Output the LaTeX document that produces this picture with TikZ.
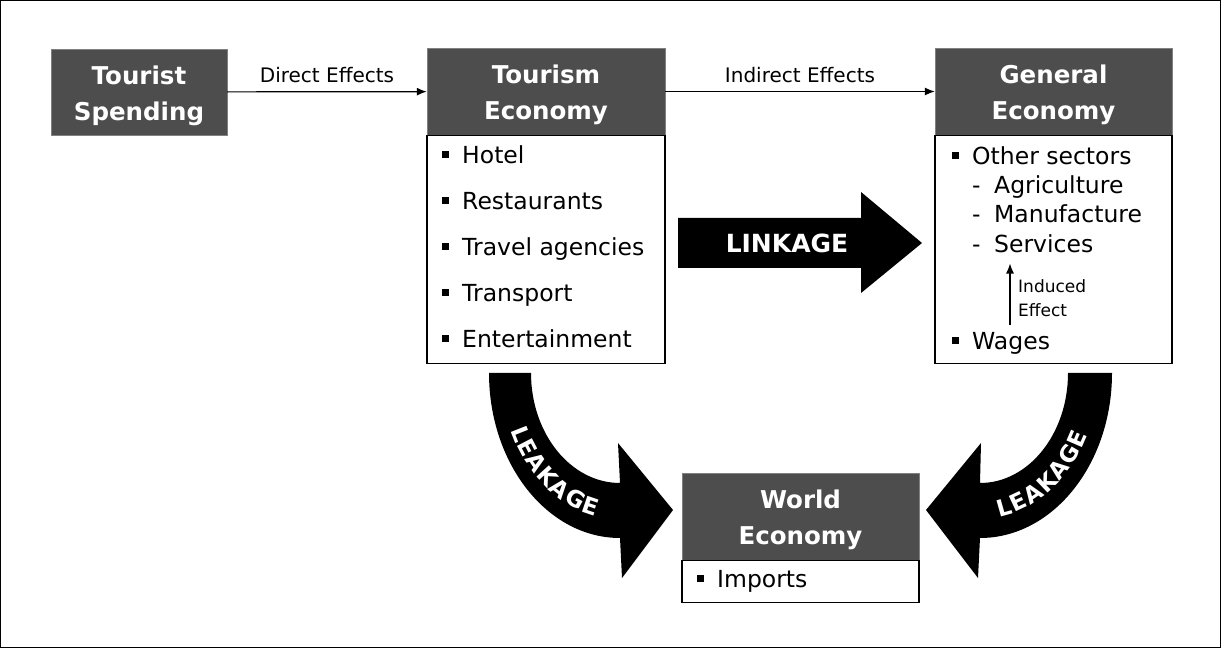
\documentclass[tikz,border=0pt]{standalone}
\usepackage{fontspec}
\setmainfont{DejaVu Sans}
\usetikzlibrary{positioning,arrows.meta,decorations.text}
\definecolor{headgray}{RGB}{77,77,77}
\newcommand{\sqbul}{\rule[5.5pt]{7pt}{7pt}\hspace{13pt}}
\newcommand{\subitm}[1]{\makebox[22pt][l]{-}#1}
\newcommand{\hdstrut}{\rule{0pt}{26pt}}
\newcommand{\hdfont}{\bfseries\fontsize{24.5}{36}\selectfont}
\newcommand{\listfont}{\fontsize{23.5}{28}\selectfont}
\newcommand{\efffont}{\fontsize{20}{24}\selectfont}
\newcommand{\indfont}{\fontsize{17}{24}\selectfont}
\newcommand{\bigfont}{\bfseries\fontsize{25}{30}\selectfont}
\newcommand{\leakfont}{\bfseries\fontsize{23}{28}\selectfont}

\begin{document}
\begin{tikzpicture}[x=1pt, y=1pt,
    >={Latex[length=10pt,width=8pt]},
    head/.style={draw=gray, fill=headgray, text=white, font=\hdfont,
      align=center, minimum height=87, inner sep=0},
    body/.style={draw, line width=1.2pt, fill=white, inner sep=0},
    item/.style={anchor=base west, inner sep=0, font=\listfont},
    effect/.style={font=\efffont, above=8pt, inner sep=0},
    flow/.style={->, line width=1.2pt}]

  \useasboundingbox (0,0) rectangle (1221,648);
  \draw[line width=1.2pt] (0.6,0.6) rectangle (1220.4,647.4);

  %% boxes
  \node[head, minimum width=176, minimum height=86] (spend) at (139,556) {\hdstrut Tourist\\Spending};

  \node[head, minimum width=238] (tourhead) at (546,556.5) {\hdstrut Tourism\\Economy};
  \node[body, minimum width=238, minimum height=228, below=0pt of tourhead] (tourbody) {};

  \node[head, minimum width=237] (genhead) at (1053.5,556.5) {\hdstrut General\\Economy};
  \node[body, minimum width=237, minimum height=228, below=0pt of genhead] (genbody) {};

  \node[head, minimum width=237] (worldhead) at (800.5,131.5) {\hdstrut World\\Economy};
  \node[body, minimum width=237, minimum height=42, below=0pt of worldhead] (worldbody) {};

  %% lists
  \foreach \t [count=\i from 0] in {Hotel,Restaurants,Travel agencies,Transport,Entertainment}
    \node[item] (tour\i) at (442,484-46*\i) {\sqbul\t};

  \node[item] (other) at (952,483) {\sqbul Other sectors};
  \node[item] (agri) at (972,454) {\subitm{Agriculture}};
  \node[item] (manu) at (972,425) {\subitm{Manufacture}};
  \node[item] (serv) at (972,395) {\subitm{Services}};
  \node[item] (wages) at (952,298) {\sqbul Wages};

  \node[item] (imports) at (697,60) {\sqbul Imports};

  \node[font=\indfont, anchor=north west, align=left, inner xsep=8pt, inner ysep=0]
    (induced) at (1010,369) {Induced\\Effect};
  \draw[->, line width=1.2pt, shorten <=8pt, shorten >=10pt]
    (wages.north -| induced.west) -- (serv.south -| induced.west);

  %% effects
  \draw[flow] (spend) -- node[effect] (direct) {Direct Effects} (tourhead);
  \draw[flow] (tourhead) -- node[effect] (indirect) {Indirect Effects} (genhead);

  %% linkage
  \fill (678,430) -- (861,430) -- (861,456) -- (922,405) -- (861,355) -- (861,380) -- (678,380) -- cycle;
  \node[text=white, font=\bigfont] (link) at (787,405) {LINKAGE};

  %% leakages
  \fill (531,275) -- (489,275) arc[start angle=180, end angle=270, x radius=131, y radius=165]
    -- (622,70) -- (673,138) -- (618,205) -- (620,165)
    arc[start angle=270, end angle=180, x radius=89, y radius=110] -- cycle;
  \path[decorate, decoration={text along path, text={|\leakfont|LEAKAGE}, text align=center,
      text color=white, raise=-8.5pt}]
    (620,275) ++(190:110 and 137.5) arc[start angle=190, end angle=275, x radius=110, y radius=137.5];

  \fill (1068,275) -- (1112,275) arc[start angle=0, end angle=-90, x radius=132, y radius=165]
    -- (978,70) -- (926,138) -- (981,205) -- (980,165)
    arc[start angle=-90, end angle=0, x radius=88, y radius=110] -- cycle;
  \path[decorate, decoration={text along path, text={|\leakfont|LEAKAGE}, text align=center,
      text color=white, raise=-8.5pt}]
    (980,275) ++(-97:110 and 137.5) arc[start angle=-97, end angle=-12, x radius=110, y radius=137.5];

\end{tikzpicture}
\end{document}
